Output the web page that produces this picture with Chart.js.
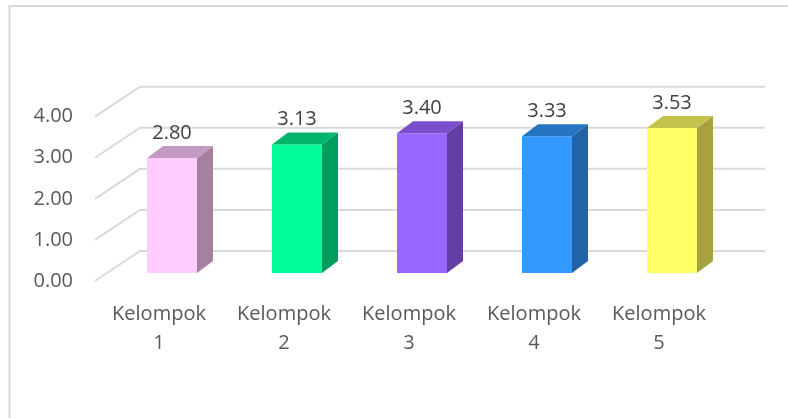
<!DOCTYPE html>
<html>
<head>
<meta charset="utf-8">
<script src="https://cdn.jsdelivr.net/npm/chart.js@4.4.1/dist/chart.umd.min.js"></script>
<style>
  html, body { margin: 0; padding: 0; background: #fff; }
  #wadah { width: 788px; height: 418px; }
</style>
</head>
<body>
<div id="wadah"><canvas id="grafik"></canvas></div>
<script>
const kelompok = [["Kelompok", "1"], ["Kelompok", "2"], ["Kelompok", "3"], ["Kelompok", "4"], ["Kelompok", "5"]];
const nilai = [2.80, 3.13, 3.40, 3.33, 3.53];
const sumbuMin = 0;
const sumbuMax = 4;
const sumbuLangkah = 1;

// warna tiap muka balok: depan, samping, atas
const warnaDepan = ["#ffccff", "#00ff99", "#9966ff", "#3399ff", "#ffff66"];
const warnaSamping = ["#a6809f", "#009e5e", "#633fa5", "#2163a6", "#a6a33f"];
const warnaAtas = ["#c39bc5", "#00b46b", "#7a4fcc", "#2575c4", "#c2c24d"];

document.addEventListener("DOMContentLoaded", () => {
  const ctx = document.getElementById("grafik").getContext("2d");
  const huruf = "'Open Sans', 'Noto Sans', sans-serif";

  const efek3D = {
    id: "efek3D",
    beforeDraw(chart) {
      const c = chart.ctx;
      c.save();
      c.strokeStyle = "#d9d9d9";
      c.lineWidth = 2;
      c.strokeRect(9.5, 6, 900, 600);
      c.restore();
    },
    beforeDatasetsDraw(chart) {
      const c = chart.ctx;
      const area = chart.chartArea;
      const y = chart.scales.y;
      c.save();
      c.strokeStyle = "#d9d9d9";
      c.lineWidth = 2;
      y.ticks.forEach(t => {
        const py = y.getPixelForValue(t.value);
        c.beginPath();
        c.moveTo(area.left - 14.5, py + 8);
        c.lineTo(area.left + 30.5, py - 22);
        c.lineTo(area.right + 30.5, py - 22);
        c.stroke();
      });
      c.restore();
    },
    afterDatasetsDraw(chart) {
      const c = chart.ctx;
      const meta = chart.getDatasetMeta(0);
      const dx = 16, dy = 12;
      c.save();
      meta.data.forEach((bar, i) => {
        const kiri = bar.x - bar.width / 2;
        const kanan = bar.x + bar.width / 2;

        c.fillStyle = warnaSamping[i];
        c.beginPath();
        c.moveTo(kanan, bar.y);
        c.lineTo(kanan + dx, bar.y - dy);
        c.lineTo(kanan + dx, bar.base - dy);
        c.lineTo(kanan, bar.base);
        c.closePath();
        c.fill();

        c.fillStyle = warnaAtas[i];
        c.beginPath();
        c.moveTo(kiri, bar.y);
        c.lineTo(kiri + dx, bar.y - dy);
        c.lineTo(kanan + dx, bar.y - dy);
        c.lineTo(kanan, bar.y);
        c.closePath();
        c.fill();

        c.fillStyle = "#404040";
        c.font = "20px " + huruf;
        c.textAlign = "center";
        c.textBaseline = "middle";
        c.fillText(nilai[i].toFixed(2), bar.x, bar.y - 25);
      });
      c.restore();
    }
  };

  new Chart(ctx, {
    type: "bar",
    data: {
      labels: kelompok,
      datasets: [{
        data: nilai,
        backgroundColor: warnaDepan,
        borderWidth: 0,
        barPercentage: 0.4,
        categoryPercentage: 1
      }]
    },
    options: {
      responsive: true,
      maintainAspectRatio: false,
      animation: false,
      layout: {
        padding: { top: 108.7, left: 9.5, right: 53.5, bottom: 0 }
      },
      plugins: {
        legend: { display: false },
        tooltip: { enabled: false }
      },
      scales: {
        x: {
          grid: { display: false, drawTicks: false },
          border: { display: false },
          ticks: {
            color: "#595959",
            font: { family: huruf, size: 20, lineHeight: 1.45 },
            padding: 26.5,
            labelOffset: -13,
            maxRotation: 0,
            autoSkip: false
          },
          afterFit: s => { s.height = 145; }
        },
        y: {
          min: sumbuMin,
          max: sumbuMax,
          grid: { display: false, drawTicks: false },
          border: { display: false },
          ticks: {
            stepSize: sumbuLangkah,
            color: "#595959",
            font: { family: huruf, size: 20 },
            padding: 36.5,
            labelOffset: 8,
            callback: v => Number(v).toFixed(2)
          },
          afterFit: s => { s.width = 100; }
        }
      }
    },
    plugins: [efek3D]
  });
});
</script>
</body>
</html>
